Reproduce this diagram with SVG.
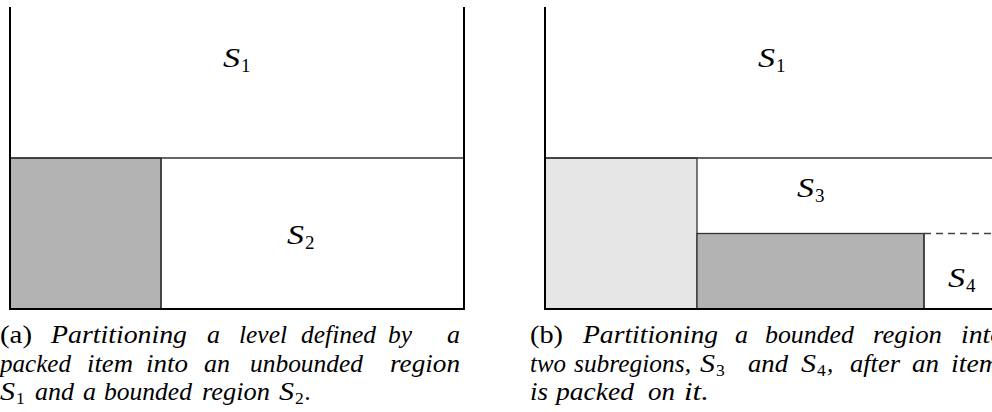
<svg xmlns="http://www.w3.org/2000/svg" width="992" height="412" viewBox="0 0 992 412">
<style>
.wall{stroke:#000;stroke-width:2;fill:none}
.thin{stroke:#333;stroke-width:1.3;fill:none}
.item{fill:#b3b3b3;stroke:#333;stroke-width:1.3}
.light{fill:#e6e6e6;stroke:#333;stroke-width:1.3}
.dash{stroke:#444;stroke-width:1.3;stroke-dasharray:7 5;fill:none}
text{font-family:"Liberation Serif","Times New Roman",serif;fill:#000}
.lab{font-style:italic;font-size:27px}
.lsub{font-size:19px}
.c{font-style:italic;font-size:25px}
.rm{font-style:normal;font-size:25px}
.cs{font-style:normal;font-size:17.5px}
</style>
<rect width="992" height="412" fill="#fff"/>
<g id="panel-a">
  <rect class="item" x="10" y="158" width="151" height="151"/>
  <line class="thin" x1="10" y1="158" x2="464" y2="158"/>
  <line class="thin" x1="161" y1="158" x2="161" y2="309"/>
  <path class="wall" d="M10 7 V309 H464 V7"/>
  <text class="lab" x="223" y="67" textLength="17" lengthAdjust="spacingAndGlyphs">S</text><text class="lsub" x="241" y="72">1</text>
  <text class="lab" x="287" y="244" textLength="17" lengthAdjust="spacingAndGlyphs">S</text><text class="lsub" x="305" y="249">2</text>
</g>
<g id="panel-b">
  <rect class="light" x="545" y="158" width="152" height="151"/>
  <rect class="item" x="697" y="233.5" width="227" height="75.5"/>
  <line class="thin" x1="545" y1="158" x2="992" y2="158"/>
  <line class="thin" x1="924" y1="233.5" x2="924" y2="309"/>
  <line class="dash" x1="924" y1="233.5" x2="992" y2="233.5"/>
  <path class="wall" d="M545 7 V309 H992"/>
  <text class="lab" x="758" y="67" textLength="17" lengthAdjust="spacingAndGlyphs">S</text><text class="lsub" x="776" y="72">1</text>
  <text class="lab" x="797" y="197" textLength="17" lengthAdjust="spacingAndGlyphs">S</text><text class="lsub" x="815" y="202">3</text>
  <text class="lab" x="948" y="287" textLength="17" lengthAdjust="spacingAndGlyphs">S</text><text class="lsub" x="966" y="292">4</text>
</g>
<g id="caption-a">
  <text class="rm" x="0" y="343" textLength="32" lengthAdjust="spacingAndGlyphs">(a)</text>
  <text class="c" x="51" y="343" textLength="136" lengthAdjust="spacingAndGlyphs">Partitioning</text>
  <text class="c" x="207" y="343" textLength="13" lengthAdjust="spacingAndGlyphs">a</text>
  <text class="c" x="239" y="343" textLength="48" lengthAdjust="spacingAndGlyphs">level</text>
  <text class="c" x="301" y="343" textLength="75" lengthAdjust="spacingAndGlyphs">defined</text>
  <text class="c" x="388" y="343" textLength="24" lengthAdjust="spacingAndGlyphs">by</text>
  <text class="c" x="447" y="343" textLength="13" lengthAdjust="spacingAndGlyphs">a</text>
  <text class="c" x="0" y="372" textLength="71" lengthAdjust="spacingAndGlyphs">packed</text>
  <text class="c" x="87" y="372" textLength="46" lengthAdjust="spacingAndGlyphs">item</text>
  <text class="c" x="146" y="372" textLength="42" lengthAdjust="spacingAndGlyphs">into</text>
  <text class="c" x="204" y="372" textLength="26" lengthAdjust="spacingAndGlyphs">an</text>
  <text class="c" x="250" y="372" textLength="113" lengthAdjust="spacingAndGlyphs">unbounded</text>
  <text class="c" x="390" y="372" textLength="70" lengthAdjust="spacingAndGlyphs">region</text>
  <text class="c" x="0" y="400" textLength="15" lengthAdjust="spacingAndGlyphs">S</text><text class="cs" x="16" y="404">1</text>
  <text class="c" x="35" y="400" textLength="39" lengthAdjust="spacingAndGlyphs">and</text>
  <text class="c" x="83" y="400" textLength="13" lengthAdjust="spacingAndGlyphs">a</text>
  <text class="c" x="104" y="400" textLength="88" lengthAdjust="spacingAndGlyphs">bounded</text>
  <text class="c" x="202" y="400" textLength="68" lengthAdjust="spacingAndGlyphs">region</text>
  <text class="c" x="279" y="400" textLength="15" lengthAdjust="spacingAndGlyphs">S</text><text class="cs" x="295" y="404">2</text><text class="c" x="305" y="400">.</text>
</g>
<g id="caption-b">
  <text class="rm" x="530" y="343" textLength="33" lengthAdjust="spacingAndGlyphs">(b)</text>
  <text class="c" x="583" y="343" textLength="135" lengthAdjust="spacingAndGlyphs">Partitioning</text>
  <text class="c" x="735" y="343" textLength="13" lengthAdjust="spacingAndGlyphs">a</text>
  <text class="c" x="765" y="343" textLength="89" lengthAdjust="spacingAndGlyphs">bounded</text>
  <text class="c" x="873" y="343" textLength="69" lengthAdjust="spacingAndGlyphs">region</text>
  <text class="c" x="961" y="343" textLength="43" lengthAdjust="spacingAndGlyphs">into</text>
  <text class="c" x="530" y="372" textLength="36" lengthAdjust="spacingAndGlyphs">two</text>
  <text class="c" x="574" y="372" textLength="117" lengthAdjust="spacingAndGlyphs">subregions,</text>
  <text class="c" x="700" y="372" textLength="15" lengthAdjust="spacingAndGlyphs">S</text><text class="cs" x="716" y="376">3</text>
  <text class="c" x="748" y="372" textLength="40" lengthAdjust="spacingAndGlyphs">and</text>
  <text class="c" x="801" y="372" textLength="15" lengthAdjust="spacingAndGlyphs">S</text><text class="cs" x="817" y="376">4</text><text class="c" x="827" y="372">,</text>
  <text class="c" x="850" y="372" textLength="50" lengthAdjust="spacingAndGlyphs">after</text>
  <text class="c" x="912" y="372" textLength="27" lengthAdjust="spacingAndGlyphs">an</text>
  <text class="c" x="951" y="372" textLength="48" lengthAdjust="spacingAndGlyphs">item</text>
  <text class="c" x="530" y="400" textLength="18" lengthAdjust="spacingAndGlyphs">is</text>
  <text class="c" x="556" y="400" textLength="78" lengthAdjust="spacingAndGlyphs">packed</text>
  <text class="c" x="648" y="400" textLength="27" lengthAdjust="spacingAndGlyphs">on</text>
  <text class="c" x="684" y="400" textLength="25" lengthAdjust="spacingAndGlyphs">it.</text>
</g>
</svg>
